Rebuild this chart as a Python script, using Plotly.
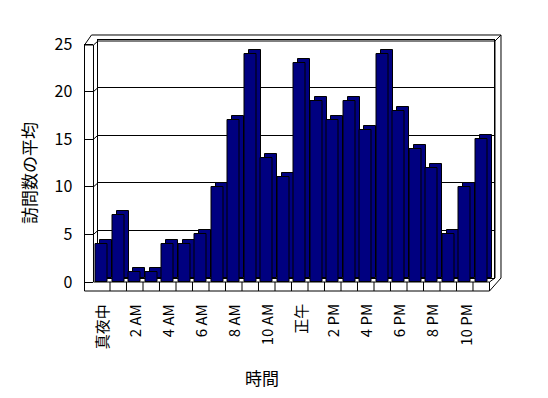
import plotly.graph_objects as go

# ---- data ----
hours = list(range(24))
visits = [4, 7, 1, 1, 4, 4, 5, 10, 17, 24, 13, 11, 23, 19, 17, 19, 16, 24, 18, 14, 12, 5, 10, 15]
tick_hours = [0, 2, 4, 6, 8, 10, 12, 14, 16, 18, 20, 22]
tick_labels = ["真夜中", "2 AM", "4 AM", "6 AM", "8 AM", "10 AM", "正午", "2 PM", "4 PM", "6 PM", "8 PM", "10 PM"]
y_ticks = [0, 5, 10, 15, 20, 25]
y_title = "訪問数の平均"
x_title = "時間"

# page body has an 8px margin; figure sized to fit the 548x398 window exactly
OFF = 8
W, H = 548 - 2 * OFF, 398 - 2 * OFF
FONT = "Noto Sans CJK JP"
NAVY = "#000080"


def fx(px):
    return (px - OFF) / W


def fy(py):
    return 1 - (py - OFF) / H


# geometry (window pixels)
FL, FR = 93.5, 489.5       # front plot left/right
FB, FT = 282.0, 44.0       # front plot bottom/top (0 and 25)
DX, DY = 4.5, 4.0          # bar depth offset
BL, BR = FL + DX, FR + DX  # back wall left/right
BB, BT = FB - DY, FT - DY  # back wall bottom/top
SL = 84.5                  # left strip outer edge
FLOOR = 291.0              # floor front bottom

fig = go.Figure()

# depth copy of bars (side/top faces)
fig.add_trace(go.Bar(x=hours, y=visits, width=0.75, marker=dict(color=NAVY, line=dict(color="black", width=1)),
                     xaxis="x", yaxis="y", hoverinfo="skip", showlegend=False))
# front faces
fig.add_trace(go.Bar(x=hours, y=visits, width=0.75, marker=dict(color=NAVY, line=dict(color="black", width=1)),
                     xaxis="x2", yaxis="y2", showlegend=False))

# frame lines
segs = [
    ((SL, 45), (91.5, 35)), ((91.5, 35), (501, 35)),
    ((FL, 45), (BL, 41)), ((BL, 41), (495, 41)), ((495, 41), (501, 35)),
    ((SL, 45), (FL, 45)),
    ((SL, 45), (SL, FLOOR)), ((FL, 45), (FL, FB)),
    ((495, 41), (495, BB)), ((501, 35), (501, 278)),
    ((SL, FLOOR), (FR, FLOOR)), ((FL, FB), (FR, FB)), ((FR, FB), (FR, FLOOR)),
    ((FR, FLOOR), (501, 278)), ((FR, FB), (495, BB)),
]
# left wall grid diagonals
for v in y_ticks[1:-1]:
    yf = FB - (FB - FT) * v / 25
    yb = BB - (BB - BT) * v / 25
    segs.append(((FL, yf), (BL, yb)))
# floor category dividers
cw = (FR - FL) / len(hours)
for k in range(1, len(hours)):
    xk = FL + k * cw
    segs.append(((xk, FB), (xk, FLOOR)))

path = " ".join(f"M{fx(a[0]):.5f},{fy(a[1]):.5f} L{fx(b[0]):.5f},{fy(b[1]):.5f}" for a, b in segs)
fig.add_shape(type="path", path=path, xref="paper", yref="paper",
              line=dict(color="black", width=1), layer="above")

axis_common = dict(range=[-0.5, 23.5], showgrid=False, zeroline=False, fixedrange=True, automargin=False)

# rotated category labels, top-aligned under the floor
annotations = [
    dict(text=lab, x=h, y=fy(302), xref="x2", yref="paper", showarrow=False, textangle=-90,
         xanchor="center", yanchor="top", font=dict(size=15, family=FONT, color="black"))
    for h, lab in zip(tick_hours, tick_labels)
]
annotations += [
    dict(text=y_title, x=fx(28), y=fy(173), xref="paper", yref="paper", showarrow=False,
         textangle=-90, font=dict(size=17, family=FONT, color="black"), xanchor="center", yanchor="middle"),
    dict(text=x_title, x=fx(262), y=fy(377), xref="paper", yref="paper", showarrow=False,
         font=dict(size=17, family=FONT, color="black"), xanchor="center", yanchor="middle"),
]

fig.update_layout(
    width=W, height=H,
    margin=dict(l=0, r=0, t=0, b=0, pad=0, autoexpand=False),
    paper_bgcolor="white", plot_bgcolor="rgba(0,0,0,0)",
    bargap=0, font=dict(family=FONT, color="black", size=15),
    xaxis=dict(domain=[fx(BL), fx(494)], anchor="y", showticklabels=False, ticks="",
               showline=True, mirror=True, linecolor="black", linewidth=1, **axis_common),
    yaxis=dict(domain=[fy(BB), fy(BT)], anchor="x", range=[0, 25], dtick=5, showgrid=True,
               gridcolor="black", gridwidth=1, zeroline=False, showticklabels=False, ticks="",
               showline=True, mirror=True, linecolor="black", linewidth=1, fixedrange=True,
               automargin=False),
    xaxis2=dict(domain=[fx(FL), fx(FR)], anchor="y2", showticklabels=False, ticks="",
                showline=False, **axis_common),
    yaxis2=dict(domain=[fy(FB), fy(FT)], anchor="x2", range=[0, 25], tickmode="array",
                tickvals=y_ticks, ticks="outside", ticklen=9, tickcolor="black", tickwidth=1,
                ticklabelstandoff=8, showgrid=False, zeroline=False, showline=False,
                tickfont=dict(size=16, family=FONT, color="black"), fixedrange=True, automargin=False),
    annotations=annotations,
)

fig.write_html("out.html")
